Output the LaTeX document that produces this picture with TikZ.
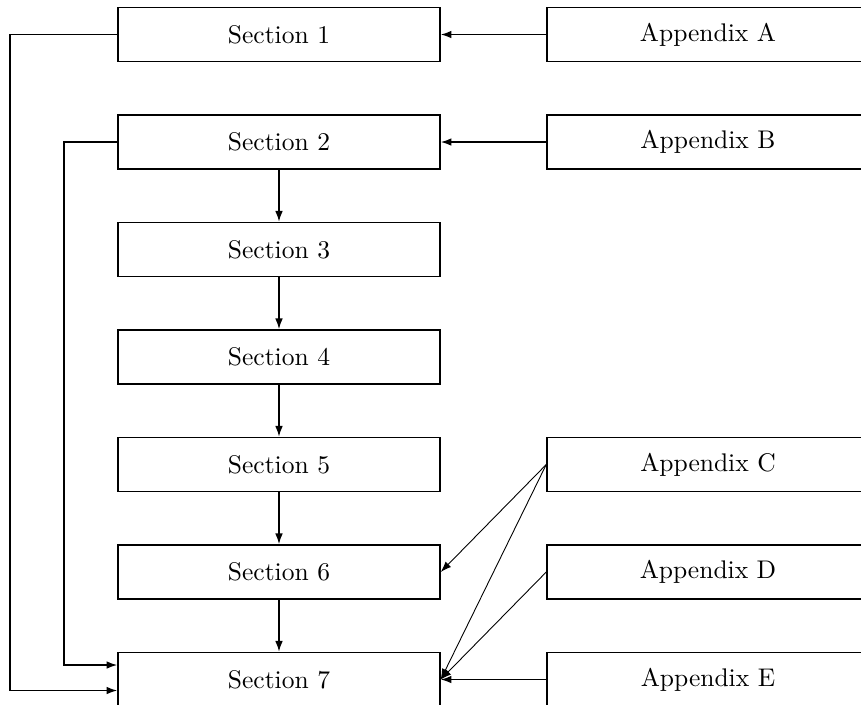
\documentclass[tikz,border=0pt]{standalone}
\usetikzlibrary{arrows.meta}
\begin{document}
\begin{tikzpicture}[x=0.392pt,y=-0.392pt,
  box/.style={draw,line width=0.6pt,rectangle,minimum width=126.2pt,minimum height=21.2pt,inner sep=0pt,font=\normalsize},
  conn/.style={line width=0.6pt,-{Latex[length=4.2pt,width=3pt]}},
  thin/.style={line width=0.35pt,-{Latex[length=4.2pt,width=3pt]}}]
\clip (0,0) rectangle (861,704);
\useasboundingbox (0,0) rectangle (861,704);
\node[box] (s1) at (279,34.5) {Section 1};
\node[box] (s2) at (279,142) {Section 2};
\node[box] (s3) at (279,249.5) {Section 3};
\node[box] (s4) at (279,357) {Section 4};
\node[box] (s5) at (279,464.5) {Section 5};
\node[box] (s6) at (279,572) {Section 6};
\node[box] (s7) at (279,679.5) {Section 7};
\node[box] (aA) at (708,34.5) {Appendix A};
\node[box] (aB) at (708,142) {Appendix B};
\node[box] (aC) at (708,464.5) {Appendix C};
\node[box] (aD) at (708,572) {Appendix D};
\node[box] (aE) at (708,679.5) {Appendix E};
\draw[conn] (aA.west) -- (s1.east);
\draw[conn] (aB.west) -- (s2.east);
\draw[conn] (s2) -- (s3);
\draw[conn] (s3) -- (s4);
\draw[conn] (s4) -- (s5);
\draw[conn] (s5) -- (s6);
\draw[conn] (s6) -- (s7);
\draw[conn] (s1.west) -- (10,34.5) |- ([yshift=-11*0.392pt]s7.west);
\draw[conn] (s2.west) -- (64,142) |- ([yshift=14.5*0.392pt]s7.west);
\draw[thin] (aC.west) -- (s6.east);
\draw[thin] (aC.west) -- (s7.east);
\draw[thin] (aD.west) -- (s7.east);
\draw[conn] (aE.west) -- (s7.east);
\end{tikzpicture}
\end{document}
